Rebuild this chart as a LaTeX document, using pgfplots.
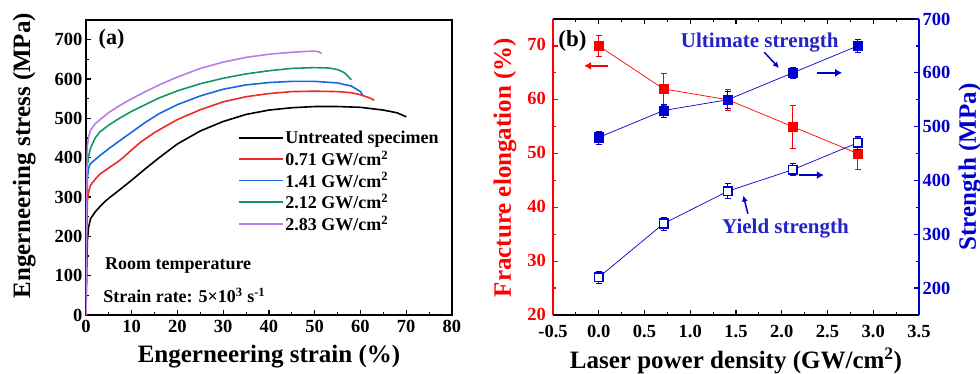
\documentclass[border=0pt]{standalone}
\usepackage{pgfplots}
\pgfplotsset{compat=1.18}
\usepackage{fontspec}
\setmainfont{Liberation Serif}
\usetikzlibrary{arrows.meta}
\definecolor{cred}{RGB}{240,40,40}
\definecolor{cblue}{RGB}{25,105,220}
\definecolor{cgreen}{RGB}{20,150,100}
\definecolor{cpurple}{RGB}{185,125,230}
\definecolor{bred}{RGB}{255,0,0}
\definecolor{bblue}{RGB}{0,0,205}
\definecolor{tblue}{RGB}{35,35,200}
\newcommand{\tickfont}{\bfseries\fontsize{18.5}{18.5}\selectfont}
\newcommand{\labfont}{\bfseries\fontsize{25}{25}\selectfont}
\begin{document}
\begin{tikzpicture}[x=1pt,y=1pt]
\path[use as bounding box] (0,0) rectangle (980,373);
% ---------------- Panel (a)
\begin{axis}[
  at={(86pt,58pt)}, anchor=south west,
  scale only axis, width=366pt, height=295pt,
  xmin=0, xmax=80, ymin=0, ymax=750,
  xtick={0,10,...,80}, ytick={0,100,...,700},
  minor x tick num=1, minor y tick num=1,
  xtick pos=left, ytick pos=left, tick align=inside,
  major tick length=5pt, minor tick length=3pt,
  every tick/.style={black, line width=1.2pt},
  axis line style={line width=1.3pt},
  /pgf/number format/assume math mode=true,
  ticklabel style={font=\tickfont},
  xticklabel style={yshift=-2pt},
  xlabel={Engerneering strain (\%)},
  ylabel={Engerneering stress (MPa)},
  label style={font=\labfont},
  xlabel style={at={(axis description cs:0.5,-0.142)}, anchor=center},
  ylabel style={at={(axis description cs:-0.169,0.54)}, anchor=center},
  legend style={draw=none, fill=none, at={(axis cs:32.5,478)}, anchor=north west,
    font=\bfseries\fontsize{18}{18}\selectfont, row sep=1.6pt,
    legend cell align=left},
  legend image code/.code={\draw[#1] (0pt,0pt) -- (44pt,0pt);},
  every axis plot/.append style={line width=1.6pt},
]
\addplot[black] coordinates {(0,0)(0.15,120)(0.3,190)(0.6,225)(1,245)(2,262)(3,275)(4,287)(5,297)(7,315)(10,343)(13,372)(16,400)(20,435)(25,468)(30,492)(35,510)(40,521)(45,527)(50,530)(55,530)(60,528)(65,521)(68,514)(70,504)};
\addlegendentry{Untreated specimen}
\addplot[cred] coordinates {(0,0)(0.15,200)(0.3,290)(0.6,315)(1,330)(2,345)(3,358)(5,374)(7,390)(8,399)(10,420)(12,440)(15,464)(18,484)(20,497)(25,522)(30,542)(35,555)(40,563)(45,568)(50,569)(55,568)(58,565)(60,560)(62,552)(63,546)};
\addlegendentry{0.71 GW/cm\textsuperscript{2}}
\addplot[cblue] coordinates {(0,0)(0.15,250)(0.3,350)(0.6,375)(1,385)(2,395)(3,405)(5,423)(7,440)(10,465)(13,490)(16,512)(20,535)(25,557)(30,574)(35,585)(40,591)(45,594)(50,594)(55,590)(58,582)(60,568)(60.5,558)};
\addlegendentry{1.41 GW/cm\textsuperscript{2}}
\addplot[cgreen] coordinates {(0,0)(0.15,280)(0.3,380)(0.6,405)(1,425)(2,450)(3,465)(5,483)(7,498)(10,518)(13,535)(16,552)(20,570)(25,588)(30,602)(35,613)(40,621)(45,627)(50,629)(53,628)(55,624)(56.5,616)(58,598)};
\addlegendentry{2.12 GW/cm\textsuperscript{2}}
\addplot[cpurple] coordinates {(0,0)(0.15,320)(0.3,430)(0.6,455)(1,470)(2,486)(3,496)(5,515)(7,530)(10,550)(13,568)(16,585)(20,605)(25,627)(30,643)(35,655)(40,663)(45,668)(48,670)(50,671)(51,669)(51.5,664)};
\addlegendentry{2.83 GW/cm\textsuperscript{2}}
\node[anchor=west, font=\bfseries\fontsize{22}{22}\selectfont] at (axis cs:2,700) {(a)};
\node[anchor=west, font=\bfseries\fontsize{18}{18}\selectfont] at (axis cs:3.4,127) {Room temperature};
\node[anchor=west, font=\bfseries\fontsize{18}{18}\selectfont] at (axis cs:3,50) {Strain rate: 5×10\textsuperscript{3} s\textsuperscript{-1}};
\end{axis}
% ---------------- Panel (b) left axis
\begin{axis}[
  at={(553pt,58pt)}, anchor=south west,
  scale only axis, width=366pt, height=296pt,
  xmin=-0.5, xmax=3.5, ymin=20, ymax=75,
  xtick={-0.5,0,...,3.5}, ytick={20,30,...,70},
  minor x tick num=1, minor y tick num=1,
  axis x line*=box, axis y line*=left,
  tick align=inside,
  major tick length=5pt, minor tick length=3pt,
  x axis line style={black, line width=1.3pt},
  y axis line style={bred, line width=1.6pt},
  xtick style={black, line width=1.2pt},
  ytick style={bred, line width=1.2pt},
  /pgf/number format/assume math mode=true,
  xticklabel style={font=\tickfont, inner sep=1pt, yshift=-9pt, /pgf/number format/.cd, fixed, fixed zerofill, precision=1},
  yticklabel style={font=\tickfont, text=bred, inner sep=1pt, xshift=-6pt, yshift=1pt},
  xlabel={Laser power density (GW/cm\textsuperscript{2})},
  ylabel={Fracture elongation (\%)},
  label style={font=\labfont},
  xlabel style={at={(axis description cs:0.5,-0.155)}, anchor=center},
  ylabel style={at={(axis description cs:-0.131,0.498)}, anchor=center, text=bred},
]
\addplot[bred, line width=0.7pt, mark=square*, mark size=4.6pt,
  mark options={solid, fill=bred, draw=bred},
  error bars/.cd, y dir=both, y explicit,
  error bar style={bred, line width=0.6pt}, error mark options={rotate=90, mark size=3pt, bred, line width=0.6pt}]
  coordinates {(0,70) +- (0,2) (0.71,62) +- (0,3) (1.41,60) +- (0,2) (2.12,55) +- (0,4) (2.83,50) +- (0,3)};
\draw[bred, line width=2pt, -{Latex[length=7pt,width=8pt]}] (axis cs:0.1,66.3) -- (axis cs:-0.16,66.3);
\node[anchor=west, font=\bfseries\fontsize{23}{23}\selectfont] at (axis cs:-0.48,71) {(b)};
\end{axis}
% ---------------- Panel (b) right axis
\begin{axis}[
  at={(553pt,58pt)}, anchor=south west,
  scale only axis, width=366pt, height=296pt,
  xmin=-0.5, xmax=3.5, ymin=150, ymax=700,
  axis x line=none, axis y line*=right,
  ytick={200,300,...,700}, minor y tick num=1,
  tick align=inside,
  major tick length=5pt, minor tick length=3pt,
  y axis line style={bblue, line width=1.6pt},
  ytick style={bblue, line width=1.2pt},
  /pgf/number format/assume math mode=true,
  yticklabel style={font=\tickfont, text=bblue},
  ylabel={Strength (MPa)},
  label style={font=\labfont},
  ylabel style={at={(axis description cs:1.139,0.5)}, anchor=center, text=bblue},
]
\addplot[bblue, line width=0.7pt, mark=square*, mark size=4.6pt,
  mark options={solid, fill=bblue, draw=bblue},
  error bars/.cd, y dir=both, y explicit,
  error bar style={bblue, line width=0.6pt}, error mark options={rotate=90, mark size=3pt, bblue, line width=0.6pt}]
  coordinates {(0,480) +- (0,12) (0.71,530) +- (0,12) (1.41,550) +- (0,15) (2.12,600) +- (0,11) (2.83,650) +- (0,12)};
\addplot[bblue, line width=0.7pt, mark=square*, mark size=4.3pt,
  mark options={solid, fill=white, draw=bblue, line width=1.6pt},
  error bars/.cd, y dir=both, y explicit,
  error bar style={bblue, line width=0.6pt}, error mark options={rotate=90, mark size=3pt, bblue, line width=0.6pt}]
  coordinates {(0,220) +- (0,12) (0.71,320) +- (0,12) (1.41,380) +- (0,14) (2.12,420) +- (0,11) (2.83,470) +- (0,12)};
\node[font=\bfseries\fontsize{21}{21}\selectfont, text=tblue] at (axis cs:1.76,656) {Ultimate strength};
\node[font=\bfseries\fontsize{21}{21}\selectfont, text=tblue] at (axis cs:2.04,311) {Yield strength};
\draw[bblue, line width=1.5pt, -{Latex[length=6pt,width=6pt]}] (axis cs:1.81,638) -- (axis cs:1.97,609);
\draw[bblue, line width=1.5pt, -{Latex[length=6pt,width=6pt]}] (axis cs:1.63,338) -- (axis cs:1.58,372);
\draw[bblue, line width=2pt, -{Latex[length=7pt,width=8pt]}] (axis cs:2.39,600) -- (axis cs:2.66,600);
\draw[bblue, line width=2pt, -{Latex[length=7pt,width=8pt]}] (axis cs:2.19,410) -- (axis cs:2.46,410);
\end{axis}
\end{tikzpicture}
\end{document}
